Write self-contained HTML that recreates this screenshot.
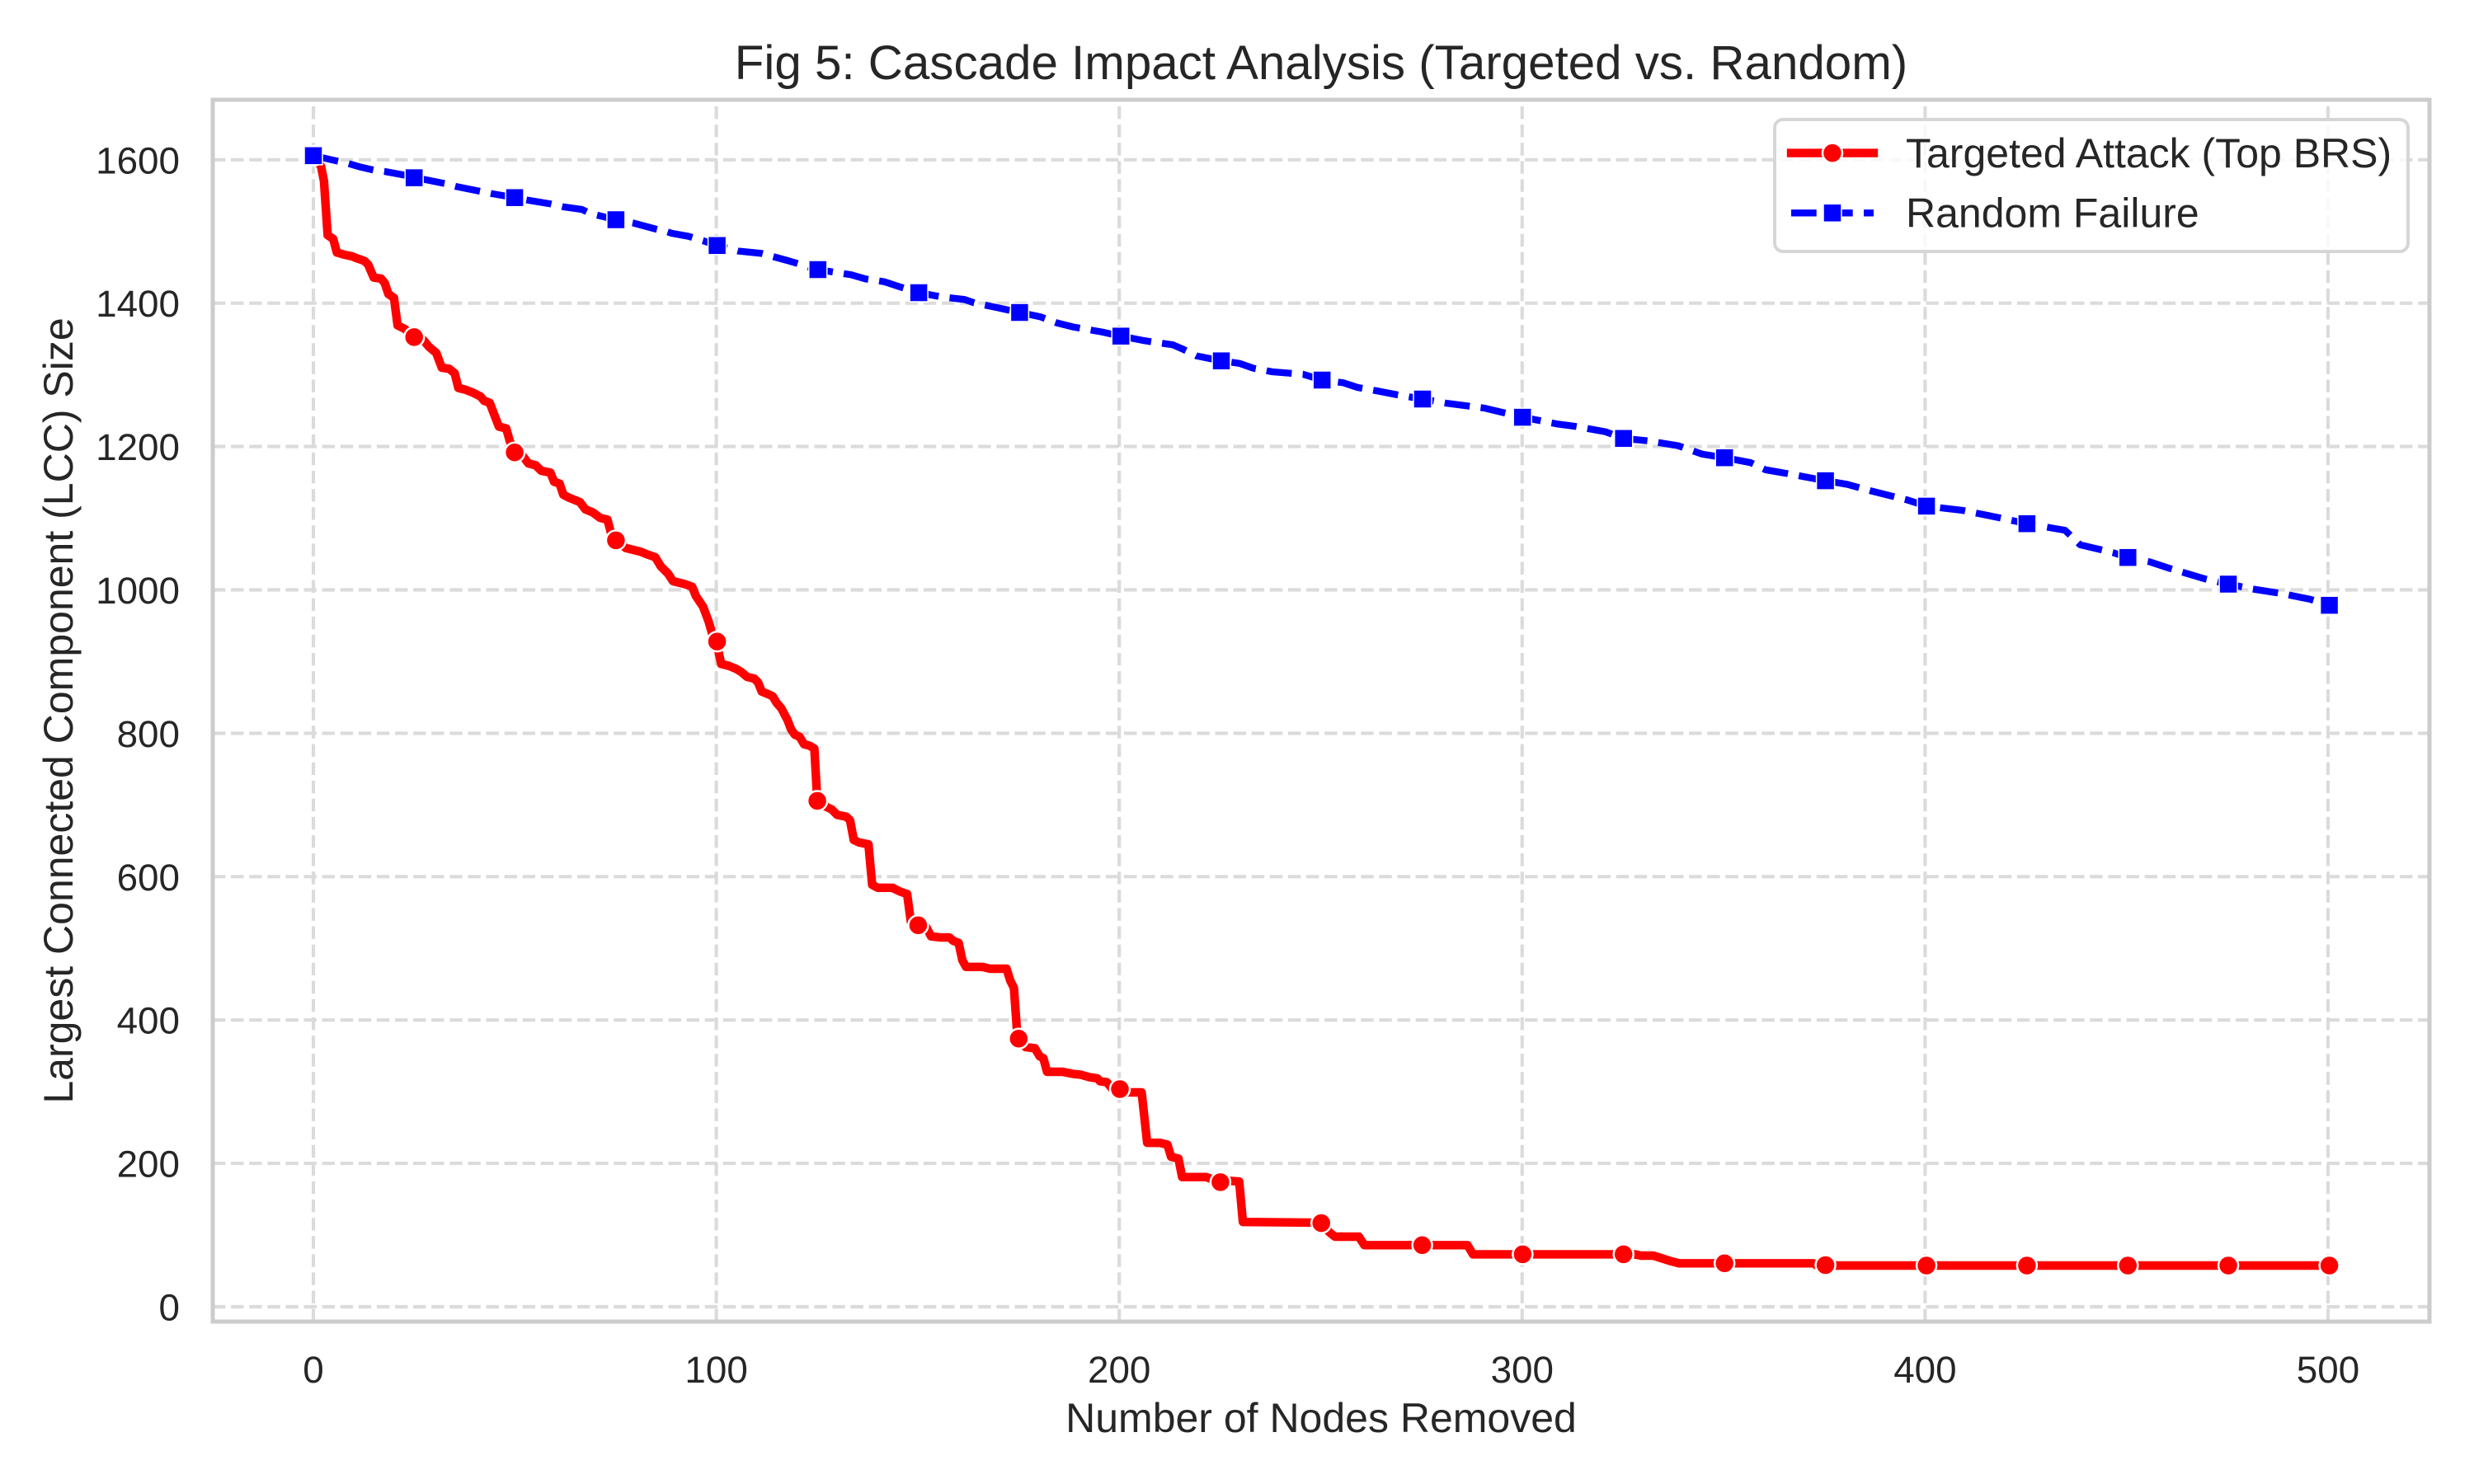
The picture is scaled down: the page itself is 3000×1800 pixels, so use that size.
<!DOCTYPE html>
<html><head><meta charset="utf-8"><style>
html,body{margin:0;padding:0;background:#fff;}
svg{display:block;}
text{font-family:"Liberation Sans",Arial,sans-serif;fill:#262626;}
</style></head><body>
<svg width="3000" height="1800" viewBox="0 0 3000 1800" xmlns="http://www.w3.org/2000/svg">
<rect x="0" y="0" width="3000" height="1800" fill="#fff"/>
<!-- grid -->
<g stroke="#dbdbdb" stroke-width="4.17" stroke-dasharray="15.4 6.7" fill="none">
<path d="M258,1585H2946M258,1411.1H2946M258,1237.2H2946M258,1063.3H2946M258,889.4H2946M258,715.5H2946M258,541.6H2946M258,367.7H2946M258,193.8H2946"/>
<path d="M380,1603V121M868.6,1603V121M1357.2,1603V121M1845.8,1603V121M2334.4,1603V121M2823,1603V121"/>
</g>
<!-- red line -->
<g fill="none" stroke="#ff0000" stroke-linejoin="round" stroke-linecap="round">
<g transform="translate(250,100) scale(0.446429)" stroke-width="23.3">
<path d="M291,200 L312,228 L320,268 L330,415 L345,425 L355,462 L375,468 L395,472 L410,478 L430,485 L440,495 L455,530 L475,533 L485,545 L495,575 L510,585 L520,660 L540,670 L565,692 L590,700 L605,718 L625,735 L640,775 L660,778 L675,790 L685,830 L705,835 L725,843 L745,853 L755,865 L770,870 L795,935 L815,940 L825,975 L838,1005 L860,1015 L875,1035 L895,1040 L910,1055 L935,1060 L945,1085 L960,1090 L970,1120 L985,1128 L1015,1140 L1030,1160 L1050,1168 L1070,1183 L1090,1188 L1100,1225 L1113,1244 L1140,1265 L1160,1270 L1180,1275 L1200,1283 L1220,1290 L1235,1315 L1255,1335 L1268,1355 L1300,1363 L1320,1370 L1330,1395 L1350,1425 L1365,1465 L1375,1500 L1388,1519"/>
</g>
<g transform="translate(850,600) scale(0.446429)" stroke-width="23.3">
<path d="M42,400 L55,460 L75,465 L95,473 L110,482 L125,495 L145,500 L155,510 L165,535 L185,543 L195,548 L205,565 L218,580 L235,612 L245,638 L255,652 L268,658 L280,678 L295,682 L308,690 L316,832 L340,848 L355,855 L370,870 L395,875 L405,885 L415,938 L430,945 L455,950 L465,1060 L480,1068 L520,1068 L540,1078 L560,1085 L570,1160 L590,1170 L612,1175 L625,1200 L650,1203 L675,1203 L685,1212 L700,1218 L710,1265 L720,1283 L765,1283 L785,1288 L830,1288 L840,1320 L850,1340 L860,1478"/>
</g>
<g transform="translate(1150,1000) scale(0.446429)" stroke-width="23.3">
<path d="M190,583 L210,605 L235,608 L248,630 L258,635 L268,672 L310,672 L340,678 L360,680 L385,687 L405,690 L412,698 L430,700 L445,718 L466,719 L490,728 L525,728 L540,865 L575,865 L595,870 L605,903 L625,908 L635,958 L700,958 L739,972 L760,968 L790,970 L800,1080 L1013,1082 L1035,1108 L1050,1120 L1115,1120 L1130,1143 L1410,1143 L1425,1168 L1560,1168"/>
</g>
<path stroke-width="10.4" d="M1846.4,1521.4 L1982,1521.4 L1990,1523 L2005,1523 L2027,1530 L2036,1532.3 L2199,1532.3 L2203,1535 L2824.6,1535"/>
</g>
<!-- red markers -->
<g fill="#ff0000" stroke="#fff" stroke-width="2.5">
<circle cx="380" cy="189" r="12"/>
<circle cx="502.2" cy="408.9" r="12"/>
<circle cx="624.1" cy="548.7" r="12"/>
<circle cx="746.9" cy="655.4" r="12"/>
<circle cx="869.6" cy="778.1" r="12"/>
<circle cx="991.1" cy="971.4" r="12"/>
<circle cx="1113.4" cy="1122.3" r="12"/>
<circle cx="1235.3" cy="1259.8" r="12"/>
<circle cx="1358" cy="1321" r="12"/>
<circle cx="1479.9" cy="1433.9" r="12"/>
<circle cx="1602.2" cy="1483.5" r="12"/>
<circle cx="1724.6" cy="1510.3" r="12"/>
<circle cx="1846.4" cy="1521.4" r="12"/>
<circle cx="1968.7" cy="1521.4" r="12"/>
<circle cx="2091.2" cy="1532.3" r="12"/>
<circle cx="2213.6" cy="1534.5" r="12"/>
<circle cx="2336.1" cy="1535" r="12"/>
<circle cx="2457.9" cy="1535" r="12"/>
<circle cx="2580.3" cy="1535" r="12"/>
<circle cx="2702.1" cy="1535" r="12"/>
<circle cx="2824.6" cy="1535" r="12"/>
</g>
<!-- blue line -->
<path fill="none" stroke="#0000ff" stroke-width="8.33" stroke-dasharray="30.7 13.3" stroke-linejoin="round" d="M380,188.8 L401.8,193.75 L421.9,198.2 L437.5,202.7 L453.1,206.25 L466.5,208 L491.1,212.5 L502.2,215.6 L517.9,218.3 L540.2,222.8 L553.6,226.3 L580.4,231.7 L596,234.8 L624.1,239.7 L640.6,242.9 L667.4,247.3 L683,250.9 L705.4,254 L712.1,257.1 L723.2,260.7 L746.9,266.5 L767.9,270.5 L794.6,277.7 L808,280.8 L814.7,283 L834.8,286.6 L852.7,292 L869.6,297.8 L895.1,304.5 L923,307.3 L957.4,316.7 L991.8,327 L1032,333.3 L1049.3,338.3 L1072.2,341.7 L1092.3,348.3 L1114.1,355 L1141,360 L1169.8,363.3 L1181.3,367.3 L1210,373.3 L1236.4,379 L1261.7,384.3 L1281.7,391.7 L1301.8,396.7 L1336.3,402.7 L1359.2,407.7 L1388,413.3 L1422.4,418.3 L1433.9,423.3 L1451,431.7 L1481,437.7 L1502.8,440.7 L1520,446.7 L1543,451 L1580.3,454 L1603.2,461 L1629,464.3 L1646.3,470 L1669.2,474 L1695,479 L1725,484 L1755.3,489.3 L1800,495 L1846.2,506.1 L1888,514.2 L1910,517.1 L1946.7,523.7 L1968.7,531.8 L1998,534.7 L2034.7,540.6 L2064,550.8 L2091.2,555.2 L2122.7,561.1 L2141,569.9 L2166.7,574.3 L2213.6,583.1 L2240,587.5 L2269.4,595.6 L2313.4,606.6 L2336.1,613.9 L2379.4,619 L2423.4,627.8 L2457.9,635.2 L2504.1,643.2 L2522.4,660.8 L2562.7,670.4 L2580.3,676.2 L2606.7,681.4 L2628.7,688.7 L2672.8,701.9 L2702.1,708.5 L2731.4,714.4 L2768.1,720.2 L2801.1,726.8 L2824.6,734.2"/>
<!-- blue markers -->
<g fill="#0000ff" stroke="#fff" stroke-width="1.5">
<rect x="369" y="177.8" width="22" height="22"/>
<rect x="491.2" y="204.6" width="22" height="22"/>
<rect x="613.1" y="228.7" width="22" height="22"/>
<rect x="735.9" y="255.5" width="22" height="22"/>
<rect x="858.6" y="286.8" width="22" height="22"/>
<rect x="980.8" y="316" width="22" height="22"/>
<rect x="1103.1" y="344" width="22" height="22"/>
<rect x="1225.4" y="368" width="22" height="22"/>
<rect x="1348.2" y="396.7" width="22" height="22"/>
<rect x="1470" y="426.7" width="22" height="22"/>
<rect x="1592.2" y="450" width="22" height="22"/>
<rect x="1714" y="473" width="22" height="22"/>
<rect x="1835.2" y="495.1" width="22" height="22"/>
<rect x="1957.7" y="520.8" width="22" height="22"/>
<rect x="2080.2" y="544.2" width="22" height="22"/>
<rect x="2202.6" y="572.1" width="22" height="22"/>
<rect x="2325.1" y="602.9" width="22" height="22"/>
<rect x="2446.9" y="624.2" width="22" height="22"/>
<rect x="2569.3" y="665.2" width="22" height="22"/>
<rect x="2691.1" y="697.5" width="22" height="22"/>
<rect x="2813.6" y="723.2" width="22" height="22"/>
</g>
<!-- spines -->
<rect x="258" y="121" width="2688" height="1482" fill="none" stroke="#cccccc" stroke-width="5"/>
<!-- legend -->
<rect x="2152" y="145" width="768" height="160" rx="10" ry="10" fill="#ffffff" fill-opacity="0.8" stroke="#d6d6d6" stroke-width="4"/>
<line x1="2172" y1="185.6" x2="2272" y2="185.6" stroke="#ff0000" stroke-width="10.4" stroke-linecap="square"/>
<circle cx="2222" cy="185.6" r="12" fill="#ff0000" stroke="#fff" stroke-width="2.5"/>
<line x1="2172" y1="258.3" x2="2272" y2="258.3" stroke="#0000ff" stroke-width="8.33" stroke-dasharray="30.7 13.3"/>
<rect x="2211" y="247.3" width="22" height="22" fill="#0000ff" stroke="#fff" stroke-width="1.5"/>
<text x="2311" y="203" font-size="50">Targeted Attack (Top BRS)</text>
<text x="2311" y="275.5" font-size="50">Random Failure</text>
<!-- x tick labels -->
<g font-size="45.8" text-anchor="middle">
<text x="380" y="1677">0</text>
<text x="868.6" y="1677">100</text>
<text x="1357.2" y="1677">200</text>
<text x="1845.8" y="1677">300</text>
<text x="2334.4" y="1677">400</text>
<text x="2823" y="1677">500</text>
</g>
<!-- y tick labels -->
<g font-size="45.8" text-anchor="end">
<text x="218" y="1601.5">0</text>
<text x="218" y="1427.6">200</text>
<text x="218" y="1253.7">400</text>
<text x="218" y="1079.8">600</text>
<text x="218" y="905.9">800</text>
<text x="218" y="732">1000</text>
<text x="218" y="558.1">1200</text>
<text x="218" y="384.2">1400</text>
<text x="218" y="210.3">1600</text>
</g>
<!-- axis labels -->
<text x="1602" y="1737" font-size="50" text-anchor="middle">Number of Nodes Removed</text>
<text x="88" y="862" font-size="50" text-anchor="middle" transform="rotate(-90 88 862)">Largest Connected Component (LCC) Size</text>
<!-- title -->
<text x="1602" y="96" font-size="58.3" text-anchor="middle">Fig 5: Cascade Impact Analysis (Targeted vs. Random)</text>
</svg>
</body></html>
